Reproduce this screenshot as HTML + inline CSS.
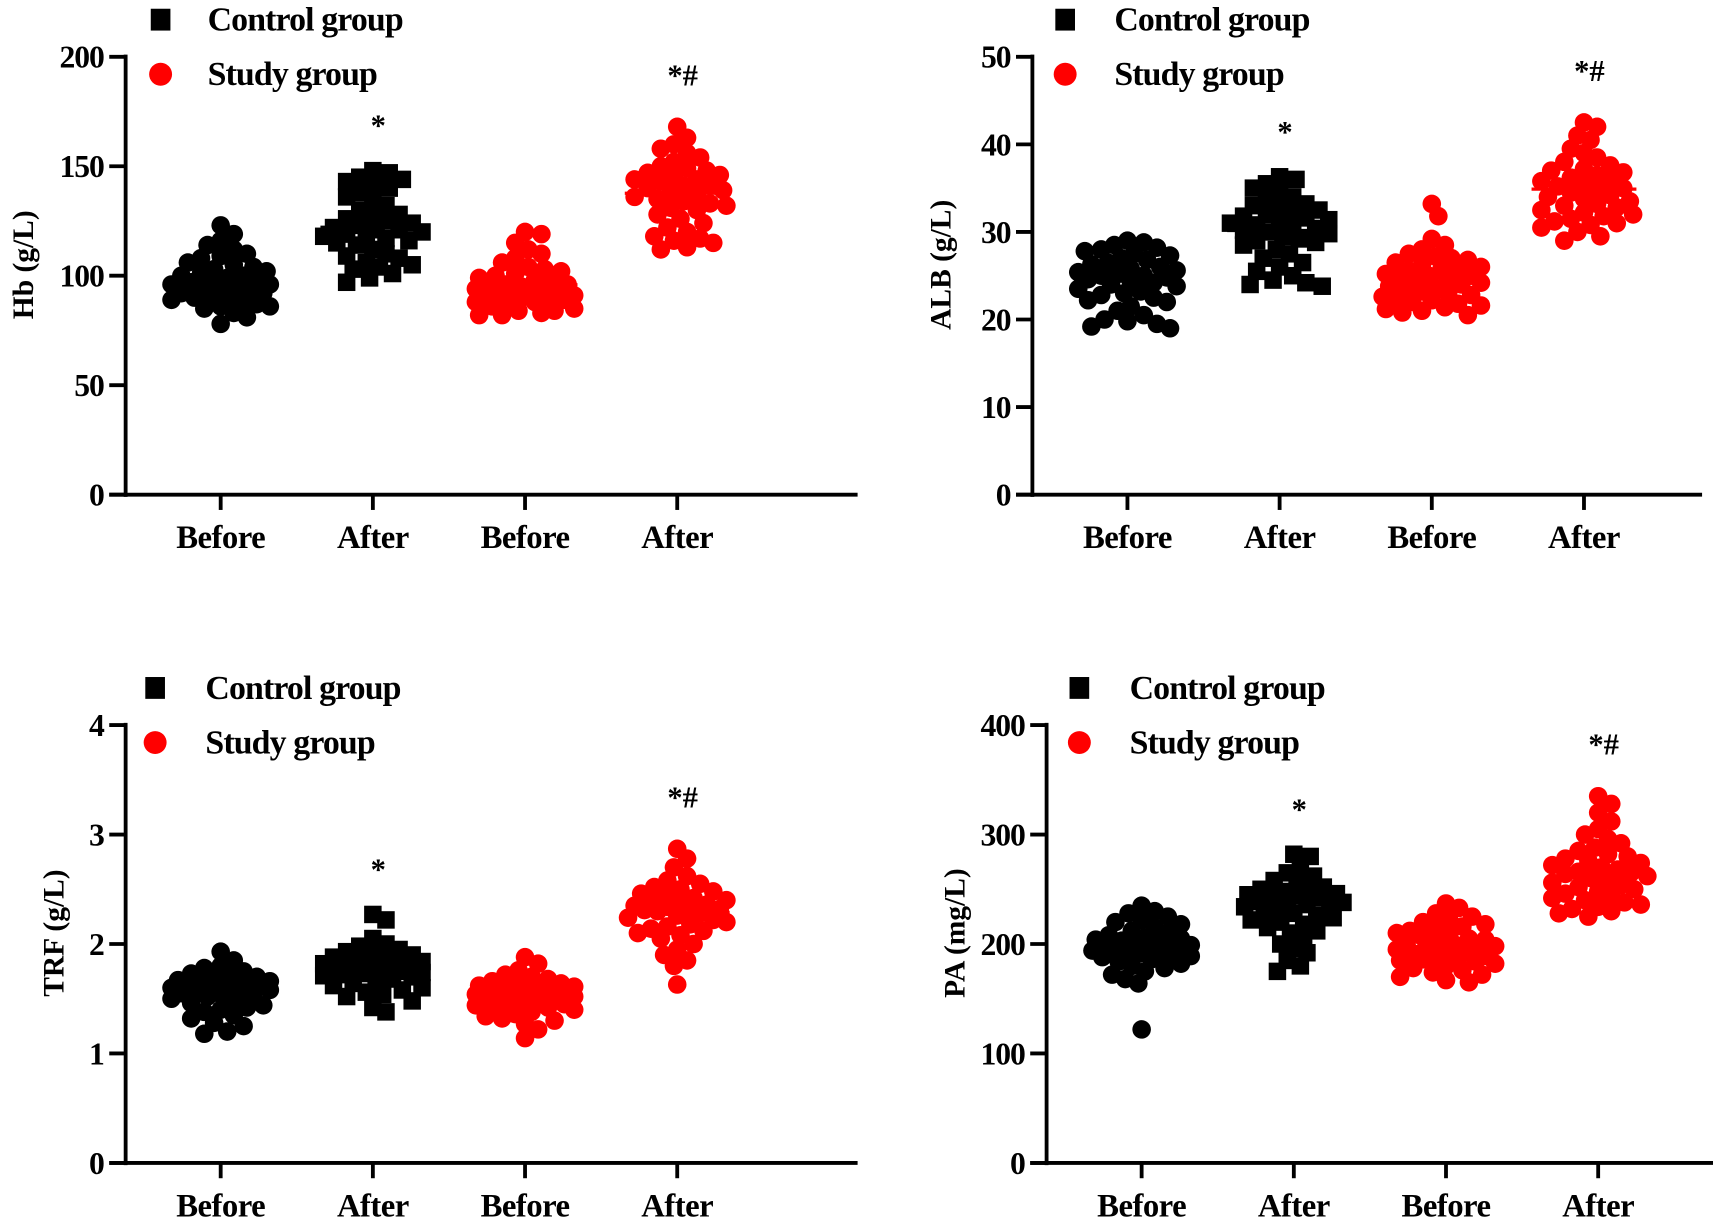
<!DOCTYPE html>
<html><head><meta charset="utf-8">
<style>
html,body{margin:0;padding:0;background:#fff;}
svg{display:block;}
text{font-family:"Liberation Serif",serif;font-weight:bold;fill:#000;}
</style></head>
<body>
<svg id="fig" width="1713" height="1223" viewBox="0 0 1568 1120" preserveAspectRatio="none" xmlns="http://www.w3.org/2000/svg"></svg>
<script>
const categories = ["Before","After","Before","After"];
const hbControlBefore=[123,119,116,114,112,110,109,108,106,105,104,103,102,101,100,100,99,98,98,97,96,96,95,94,94,93,92,92,91,90,90,89,88,87,86,86,85,83,81,78];
const hbControlAfter=[148,147,145,144,143,141,140,138,136,134,132,130,128,127,126,125,124,123,122,121,121,120,119,118,118,117,116,115,114,112,110,109,108,106,105,104,103,101,99,97];
const hbStudyBefore=[120,119,115,112,110,108,106,104,103,102,101,100,99,98,97,96,96,95,95,94,94,93,93,92,92,91,91,90,90,89,88,88,87,86,85,84,84,83,82,82];
const hbStudyAfter=[168,163,160,158,156,154,152,150,149,148,147,146,145,144,144,143,142,141,140,139,138,137,136,135,134,133,132,131,130,128,126,124,122,120,118,117,116,115,113,112];
const albControlBefore=[29,28.8,28.5,28.2,28,27.8,27.5,27.3,27,26.8,26.5,26.3,26,25.8,25.6,25.4,25.2,25,25,24.8,24.6,24.4,24.2,24,23.8,23.5,23.2,23,22.8,22.5,22.2,22,21.5,21,20.5,20,19.8,19.5,19.2,19];
const albControlAfter=[36.3,36,35.5,35,34.5,34,33.6,33.2,33,32.8,32.5,32.2,32,31.8,31.6,31.4,31.2,31,30.8,30.6,30.4,30.2,30,29.8,29.5,29.2,29,28.8,28.5,28,27.5,27,26.5,26,25.5,25,24.5,24.2,24,23.8];
const albStudyBefore=[33.2,31.8,29.2,28.5,28,27.5,27.2,27,26.8,26.5,26.2,26,25.8,25.6,25.4,25.2,25,25,24.8,24.6,24.4,24.2,24,23.8,23.6,23.4,23.2,23,22.8,22.6,22.4,22.2,22,21.8,21.6,21.4,21.2,21,20.8,20.5];
const albStudyAfter=[42.5,42,41,40.5,39.5,39,38.5,38,37.6,37.2,37,36.8,36.5,36.2,36,35.8,35.5,35.2,35,34.8,34.5,34.2,34,33.8,33.5,33.2,33,32.8,32.5,32.2,32,31.8,31.5,31.2,31,30.8,30.5,30,29.5,29];
const trfControlBefore=[1.93,1.85,1.8,1.78,1.75,1.73,1.71,1.7,1.68,1.67,1.66,1.65,1.64,1.63,1.62,1.62,1.61,1.6,1.6,1.59,1.58,1.57,1.56,1.55,1.54,1.53,1.52,1.5,1.48,1.46,1.44,1.42,1.4,1.38,1.35,1.32,1.28,1.25,1.2,1.18];
const trfControlAfter=[2.27,2.22,2.05,2.0,1.98,1.95,1.93,1.92,1.9,1.88,1.87,1.86,1.85,1.84,1.83,1.82,1.81,1.8,1.79,1.78,1.77,1.76,1.75,1.74,1.73,1.72,1.71,1.7,1.68,1.66,1.64,1.62,1.6,1.58,1.56,1.54,1.52,1.48,1.42,1.38];
const trfStudyBefore=[1.88,1.82,1.76,1.72,1.7,1.68,1.66,1.64,1.63,1.62,1.61,1.6,1.59,1.58,1.57,1.56,1.55,1.55,1.54,1.53,1.52,1.51,1.5,1.49,1.48,1.47,1.46,1.45,1.44,1.43,1.42,1.4,1.38,1.36,1.34,1.32,1.3,1.27,1.22,1.14];
const trfStudyAfter=[2.87,2.78,2.7,2.62,2.58,2.55,2.52,2.5,2.48,2.46,2.44,2.42,2.4,2.38,2.37,2.36,2.35,2.34,2.33,2.32,2.31,2.3,2.28,2.26,2.24,2.22,2.2,2.18,2.16,2.14,2.12,2.1,2.08,2.05,2.0,1.95,1.9,1.85,1.8,1.63];
const paControlBefore=[235,230,228,225,222,220,218,215,212,210,208,206,205,204,203,202,201,200,199,198,197,196,195,194,193,192,191,190,189,188,186,184,182,180,178,175,172,168,164,122];
const paControlAfter=[282,280,270,265,262,258,255,252,250,248,247,246,245,244,243,242,241,240,239,238,236,234,232,230,228,226,224,222,220,218,215,212,210,205,200,196,192,185,180,175];
const paStudyBefore=[237,233,228,225,222,220,218,216,214,212,210,208,206,205,204,202,200,199,198,197,196,195,194,192,190,189,188,187,186,185,184,182,180,178,176,174,172,170,167,165];
const paStudyAfter=[335,328,320,312,305,300,296,292,288,285,282,280,278,276,274,272,270,268,266,265,264,262,260,258,256,254,252,250,248,246,244,242,240,238,236,234,232,230,228,225];
const hbTicks=[0,50,100,150,200];
const albTicks=[0,10,20,30,40,50];
const trfTicks=[0,1,2,3,4];
const paTicks=[0,100,200,300,400];
const annotations=["","*","","*#"];

const NS="http://www.w3.org/2000/svg";
const svg=document.getElementById('fig');
function el(tag,attrs,parent,txt){const e=document.createElementNS(NS,tag);for(const k in attrs)e.setAttribute(k,attrs[k]);if(txt!==undefined)e.textContent=txt;(parent||svg).appendChild(e);return e;}

const panels=[
 {key:'hb',title:'Hb (g/L)',ax:115,yTop:52,yBot:453,ticks:hbTicks,groups:[hbControlBefore,hbControlAfter,hbStudyBefore,hbStudyAfter],xEnd:785,legX:147,legY:18,txtX:190,titleX:20},
 {key:'alb',title:'ALB (g/L)',ax:945,yTop:52,yBot:453,ticks:albTicks,groups:[albControlBefore,albControlAfter,albStudyBefore,albStudyAfter],xEnd:1558,legX:975,legY:18,txtX:1020,titleX:860},
 {key:'trf',title:'TRF (g/L)',ax:115,yTop:664,yBot:1065,ticks:trfTicks,groups:[trfControlBefore,trfControlAfter,trfStudyBefore,trfStudyAfter],xEnd:785,legX:142,legY:630,txtX:188,titleX:48},
 {key:'pa',title:'PA (mg/L)',ax:958,yTop:664,yBot:1065,ticks:paTicks,groups:[paControlBefore,paControlAfter,paStudyBefore,paStudyAfter],xEnd:1568,legX:988,legY:630,txtX:1034,titleX:873}
];

panels.forEach(p=>{
  const g=el('g',{});
  
  
  const max=p.ticks[p.ticks.length-1];
  const y=v=>p.yBot-(v/max)*(p.yBot-p.yTop);
  const cx=i=>p.ax+87+i*139.3;
  const ya=el('line',{x1:p.ax,y1:p.yTop-2,x2:p.ax,y2:p.yBot+2,stroke:'#000','stroke-width':3.5},g);
  
  const xa=el('line',{x1:p.ax-15,y1:p.yBot,x2:p.xEnd,y2:p.yBot,stroke:'#000','stroke-width':3.5},g);
  
  p.ticks.forEach(t=>{
    el('line',{x1:p.ax-15,y1:y(t),x2:p.ax,y2:y(t),stroke:'#000','stroke-width':3.5},g);
    const tl=el('text',{x:p.ax-20,y:y(t)+10,'text-anchor':'end','font-size':29,'letter-spacing':'-1'},g,String(t));
    
  });
  const yt=el('text',{x:0,y:0,'text-anchor':'middle','font-size':27,transform:`translate(${p.titleX+10},${(p.yTop+p.yBot)/2-10}) rotate(-90)`},g,p.title);
  
  categories.forEach((c,i)=>{
    el('line',{x1:cx(i),y1:p.yBot,x2:cx(i),y2:p.yBot+14,stroke:'#000','stroke-width':3.5},g);
    const cl=el('text',{x:cx(i),y:p.yBot+49,'text-anchor':'middle','font-size':30,'letter-spacing':'-0.5'},g,c);
    
  });
  p.groups.forEach((vals,i)=>{
    const col=i<2?'#000':'#f00';
    const square=(i===1);
    const d=12.5;
    const lim=45;
    const placed=[];
    const sorted=vals.slice().sort((a,b)=>b-a);
    sorted.forEach(v=>{
      const py=y(v);
      let off=null,best=-1,bestOff=0;
      for(let k=0;k<=2*Math.floor(lim/3);k++){
        const cand=k===0?0:(k%2?1:-1)*Math.ceil(k/2)*3;
        let md=Infinity;
        placed.forEach(q=>{const dd=Math.hypot(q[0]-cand,q[1]-py);if(dd<md)md=dd;});
        if(md>=d){off=cand;break;}
        if(md>best){best=md;bestOff=cand;}
      }
      if(off===null)off=bestOff;
      placed.push([off,py]);
      const px=cx(i)+off;
      let m;
      if(square) m=el('rect',{x:px-8,y:py-8,width:16,height:16,fill:col},g);
      else m=el('circle',{cx:px,cy:py,r:8.5,fill:col},g);
      
      
    });
    const mean=vals.reduce((a,b)=>a+b,0)/vals.length;
    const ml=el('line',{x1:cx(i)-48,y1:y(mean),x2:cx(i)+48,y2:y(mean),stroke:col,'stroke-width':3},g);
    
    if(annotations[i]){
      const mx=Math.max(...vals);
      const an=el('text',{x:cx(i)+5,y:y(mx)-(i===3?38:32),'text-anchor':'middle','font-size':28,'font-weight':'normal'},g,annotations[i]);
      
    }
  });
  const l1=el('rect',{x:p.legX-9,y:p.legY-10,width:18,height:20,fill:'#000'},g);
  
  const t1=el('text',{x:p.txtX,y:p.legY+10,'font-size':31,'letter-spacing':'-0.8'},g,'Control group');
  
  const l2=el('circle',{cx:p.legX,cy:p.legY+50,r:10.5,fill:'#f00'},g);
  
  const t2=el('text',{x:p.txtX,y:p.legY+60,'font-size':31,'letter-spacing':'-0.8'},g,'Study group');
  
});
</script>
</body></html>
